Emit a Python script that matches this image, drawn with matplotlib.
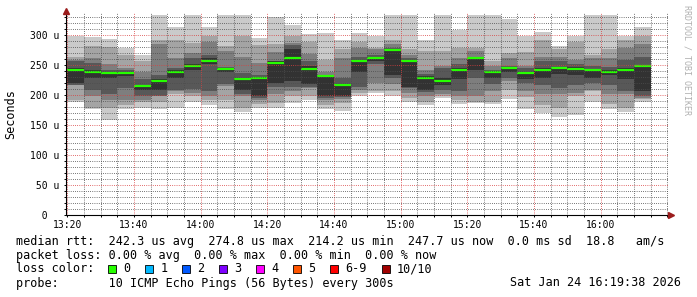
import numpy as np
import matplotlib
matplotlib.use("Agg")
import matplotlib.pyplot as plt
from matplotlib.patches import Rectangle
from matplotlib.ticker import MultipleLocator

plt.rcParams['font.family'] = ['DejaVu Sans Mono']

# one row per 5 minute step from 13:20, 10 pings sorted low -> high (us)
step_min = 5
pings = [
    [188, 192, 216, 217, 220, 245, 256, 259, 263, 299],
    [176, 179, 198, 209, 228, 242, 253, 262, 282, 297],
    [159, 178, 191, 202, 228, 237, 242, 252, 280, 293],
    [176, 184, 192, 212, 231, 238, 241, 245, 267, 278],
    [178, 188, 191, 199, 209, 216, 226, 239, 256, 267],
    [177, 189, 198, 199, 209, 226, 234, 285, 292, 334],
    [179, 202, 207, 209, 228, 242, 245, 262, 291, 314],
    [188, 199, 203, 210, 242, 251, 262, 270, 287, 334],
    [184, 192, 198, 206, 251, 261, 267, 288, 298, 313],
    [177, 192, 215, 218, 239, 245, 246, 273, 282, 333],
    [172, 178, 198, 202, 209, 229, 237, 263, 298, 333],
    [178, 185, 191, 195, 198, 230, 234, 253, 284, 295],
    [179, 186, 201, 214, 220, 256, 257, 272, 285, 330],
    [187, 198, 206, 214, 223, 276, 283, 287, 299, 316],
    [192, 199, 211, 214, 218, 248, 256, 268, 289, 301],
    [177, 184, 192, 195, 198, 232, 234, 239, 259, 303],
    [174, 187, 194, 196, 199, 218, 228, 261, 276, 292],
    [199, 203, 209, 213, 239, 259, 263, 279, 289, 303],
    [203, 207, 220, 252, 257, 264, 267, 276, 278, 299],
    [199, 206, 218, 229, 234, 276, 279, 285, 292, 333],
    [188, 195, 203, 211, 214, 259, 261, 267, 276, 333],
    [184, 189, 199, 205, 209, 232, 235, 242, 274, 292],
    [195, 199, 202, 209, 216, 228, 245, 249, 273, 333],
    [185, 192, 199, 206, 227, 245, 252, 262, 278, 309],
    [187, 189, 199, 228, 242, 263, 264, 274, 279, 333],
    [185, 189, 206, 218, 228, 239, 242, 248, 257, 333],
    [194, 209, 223, 229, 238, 247, 249, 262, 270, 327],
    [176, 196, 206, 220, 226, 239, 245, 249, 272, 298],
    [170, 184, 202, 216, 229, 245, 257, 264, 291, 305],
    [163, 179, 202, 212, 235, 247, 256, 264, 276, 281],
    [167, 199, 203, 217, 234, 246, 252, 259, 289, 299],
    [189, 207, 209, 220, 228, 243, 248, 262, 267, 333],
    [177, 185, 201, 217, 234, 242, 246, 261, 277, 333],
    [172, 179, 201, 206, 227, 245, 259, 278, 291, 299],
    [189, 194, 195, 198, 206, 249, 263, 285, 299, 313],
]
median = [242, 239, 236, 237, 214.2, 224, 239, 248, 257, 244,
          227, 228, 253, 261, 244, 231, 216, 256, 262, 274.8,
          257, 229, 224, 242, 261, 238, 245, 237, 241, 245,
          243, 241, 239, 241, 247.7]

xlabels = ["13:20", "13:40", "14:00", "14:20", "14:40", "15:00", "15:20", "15:40", "16:00"]
yticks = [0, 50, 100, 150, 200, 250, 300]
ylabels = ["  0", " 50 u", "100 u", "150 u", "200 u", "250 u", "300 u"]

loss_labels = ["0", "1", "2", "3", "4", "5", "6-9", "10/10"]
loss_colors = ["#26ff00", "#00b8ff", "#0059ff", "#7e00ff", "#ff00ff", "#ff5500", "#ff0000", "#a10000"]

line_rtt = "median rtt:  242.3 us avg  274.8 us max  214.2 us min  247.7 us now  0.0 ms sd  18.8   am/s"
line_loss = "packet loss: 0.00 % avg  0.00 % max  0.00 % min  0.00 % now"
line_probe = "probe:       10 ICMP Echo Pings (56 Bytes) every 300s"
stamp = "Sat Jan 24 16:19:38 2026"

smoke = ["#cacaca", "#a4a4a4", "#7e7e7e", "#585858", "#323232"]

W, H = 697, 297
fig = plt.figure(figsize=(W / 100, H / 100), dpi=100)
fig.patch.set_facecolor("white")

def fx(x):
    return x / W

def fy(y):
    return 1 - y / H

ax_l, ax_r, ax_t, ax_b = 66, 668, 13, 215
ax = fig.add_axes([fx(ax_l), fy(ax_b), (ax_r - ax_l) / W, (ax_b - ax_t) / H])
px_per_min = 200 / 60.0
x_start = -0.37
ax.set_xlim(x_start, x_start + (ax_r - ax_l) / px_per_min)
ax.set_ylim(0, (ax_b - ax_t) / 0.6)

p = np.array(pings, dtype=float)
x = np.arange(len(p)) * step_min
n = p.shape[1]
for k, col in enumerate(smoke):
    ax.bar(x, p[:, n - 1 - k] - p[:, k], bottom=p[:, k], width=step_min,
           align="edge", color=col, linewidth=0, zorder=1)
ax.hlines(median, x, x + step_min, colors=loss_colors[0], linewidth=1.6, zorder=2)

ax.set_xticks(np.arange(len(xlabels)) * 20, xlabels)
ax.xaxis.set_minor_locator(MultipleLocator(5))
ax.set_yticks(yticks, ylabels)
ax.yaxis.set_minor_locator(MultipleLocator(10))

dots = (0, (0.72, 1.44))
ax.grid(which="minor", color=(0.3, 0.3, 0.3, 0.22), linestyle=dots, linewidth=0.72)
ax.grid(which="major", color=(0.85, 0.25, 0.25, 0.32), linestyle=dots, linewidth=0.72)
ax.set_axisbelow(False)

for s in ["top", "right"]:
    ax.spines[s].set_visible(False)
for s in ["left", "bottom"]:
    ax.spines[s].set_color("black")
    ax.spines[s].set_linewidth(0.8)
    ax.spines[s].set_zorder(4)

ax.tick_params(which="both", direction="out", length=1.5, width=0.7, color="black")
ax.tick_params(axis="x", labelsize=7, pad=2)
ax.tick_params(axis="y", labelsize=7, pad=24.5)
for lab in ax.get_yticklabels():
    lab.set_horizontalalignment("left")

# axis arrows
ax.plot([0], [1.0 + 2.5 / (ax_b - ax_t)], marker="^", ms=4.5, color="#9b1c1c",
        transform=ax.transAxes, clip_on=False, zorder=5)
ax.plot([1.0 + 3.0 / (ax_r - ax_l)], [0], marker=">", ms=4.5, color="#9b1c1c",
        transform=ax.transAxes, clip_on=False, zorder=5)

fig.text(fx(10.5), fy(114), "Seconds", rotation=90, ha="center", va="center", fontsize=8.5)
fig.text(fx(687), fy(60), "RRDTOOL / TOBI OETIKER", rotation=270, ha="center", va="center",
         fontsize=6, color="#b0b0b0")

fs = 8.5
fig.text(fx(16), fy(244.5), line_rtt, ha="left", va="baseline", fontsize=fs)
fig.text(fx(16), fy(258.5), line_loss, ha="left", va="baseline", fontsize=fs)
fig.text(fx(16), fy(272.5), "loss color:", ha="left", va="baseline", fontsize=fs)
fig.text(fx(16), fy(286.5), line_probe, ha="left", va="baseline", fontsize=fs)
fig.text(fx(681), fy(286.5), stamp, ha="right", va="baseline", fontsize=fs)

bx = 108.3
for lab, col in zip(loss_labels, loss_colors):
    fig.patches.append(Rectangle((fx(bx), fy(273.0)), 8 / W, 8.5 / H, transform=fig.transFigure,
                                 facecolor=col, edgecolor="black", linewidth=0.6))
    fig.text(fx(bx + 15), fy(272.5), lab, ha="left", va="baseline", fontsize=fs)
    bx += 37 + 7.3 * (len(lab) - 1)

fig.savefig("out.png", dpi=100, facecolor="white")
